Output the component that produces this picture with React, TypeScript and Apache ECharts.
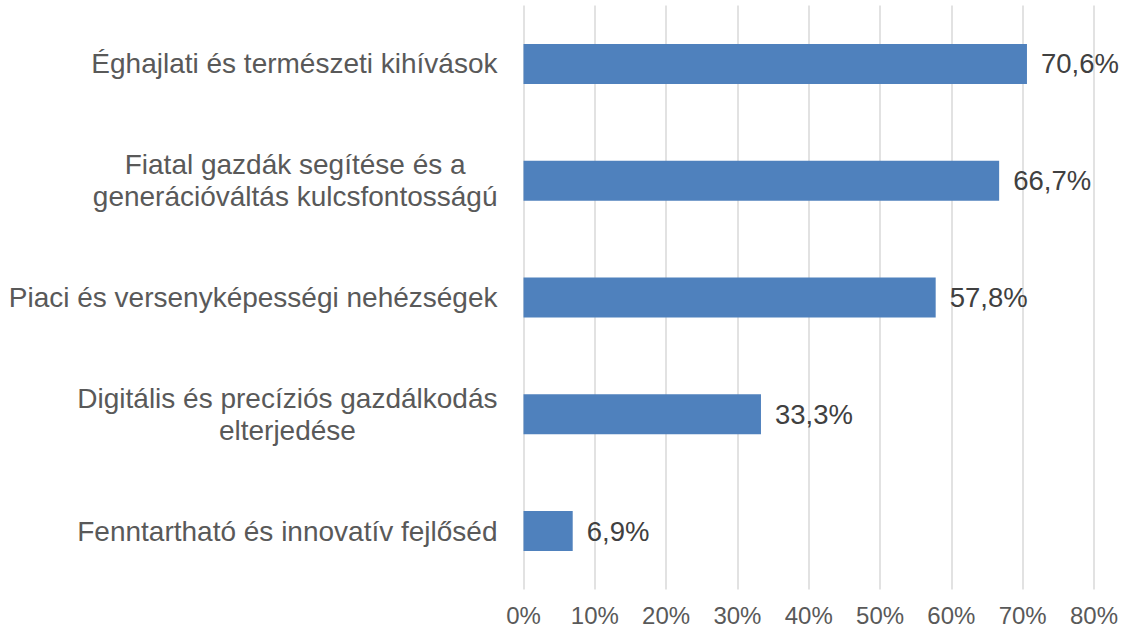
import React, { useEffect, useRef } from "react";
import * as echarts from "echarts";

const categories = [
  "Éghajlati és természeti kihívások",
  "Fiatal gazdák segítése és a\ngenerációváltás kulcsfontosságú",
  "Piaci és versenyképességi nehézségek",
  "Digitális és precíziós gazdálkodás\nelterjedése",
  "Fenntartható és innovatív fejlőséd",
];
const values = [70.6, 66.7, 57.8, 33.3, 6.9];
const valueLabels = ["70,6%", "66,7%", "57,8%", "33,3%", "6,9%"];

const FONT = "Liberation Sans, Arial, sans-serif";
const CAT_SIZE = 28;

function measure(text: string): number {
  const c = document.createElement("canvas").getContext("2d")!;
  c.font = `${CAT_SIZE}px ${FONT}`;
  return Math.max(...text.split("\n").map((l) => c.measureText(l).width));
}

export default function App() {
  const ref = useRef<HTMLDivElement>(null);
  useEffect(() => {
    const chart = echarts.init(ref.current!, null, { renderer: "svg" });
    const yData = categories.map((c) => {
      if (c.indexOf("\n") < 0) return c;
      const w = measure(c);
      return {
        value: c,
        textStyle: { align: "center", padding: [0, w, 0, 0] },
      };
    });
    chart.setOption({
      animation: false,
      grid: { left: 523.5, right: 30, top: 5.6, bottom: 39.6, containLabel: false },
      xAxis: {
        type: "value",
        min: 0,
        max: 80,
        interval: 10,
        axisLine: { show: false },
        axisTick: { show: false },
        splitLine: { show: true, lineStyle: { color: "#d9d9d9", width: 1.5 } },
        axisLabel: {
          formatter: (v: number) => v + "%",
          color: "#595959",
          fontFamily: FONT,
          fontSize: 24,
          margin: 14,
        },
      },
      yAxis: {
        type: "category",
        data: yData,
        inverse: true,
        axisLine: { show: false },
        axisTick: { show: false },
        axisLabel: {
          color: "#595959",
          fontFamily: FONT,
          fontSize: CAT_SIZE,
          lineHeight: 32,
          margin: 26,
          align: "right",
        },
      },
      series: [
        {
          type: "bar",
          data: values,
          barWidth: 40,
          itemStyle: { color: "#4f81bd" },
          label: {
            show: true,
            position: "right",
            distance: 14,
            formatter: (p: any) => valueLabels[p.dataIndex],
            color: "#404040",
            fontFamily: FONT,
            fontSize: 27.5,
          },
        },
      ],
    });
    return () => chart.dispose();
  }, []);
  return <div ref={ref} style={{ width: 1124, height: 629, position: "absolute", left: 0, top: 0 }} />;
}
